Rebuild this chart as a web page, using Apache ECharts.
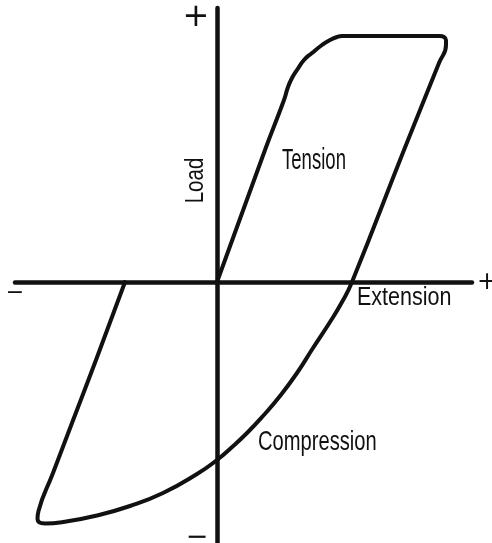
<!DOCTYPE html>
<html>
<head>
<meta charset="utf-8">
<script src="https://cdn.jsdelivr.net/npm/echarts@6/dist/echarts.min.js"></script>
<style>html,body{margin:0;padding:0;background:#fff;}#chart{width:492px;height:543px;}</style>
</head>
<body>
<div id="chart"></div>
<script>
// Hysteresis loop (arbitrary units, origin at axes crossing)
const loopExtension = [0, 4.8, 6.7, 7.1, 7.5, 8.0, 8.7, 9.5, 10.5, 11.3, 12.0, 12.5, 22.3, 22.7, 22.9, 22.9, 22.2, 18.7, 13.5, 12.5, 11.3, 9.6, 8.0, 6.3, 4.6, 3.0, 1.4, 0, -2.0, -5.4, -8.7, -12.0, -15.4, -17.2, -17.95, -17.85, -16.4, -14.5, -12.1, -9.2];
const loopLoad      = [0, 13.2, 18.2, 19.5, 20.4, 21.2, 22.2, 22.9, 23.7, 24.2, 24.5, 24.6, 24.6, 24.5, 24.2, 23.7, 21.9, 13.2, 0, -2.0, -4.0, -6.6, -9.1, -11.4, -13.4, -15.1, -16.6, -17.8, -19.2, -21.1, -22.4, -23.35, -24.0, -24.15, -23.7, -22.9, -19.1, -14.1, -7.8, 0];
const axisTitles = { x: 'Extension', y: 'Load' };
const branchNames = ['Tension', 'Compression'];
const signs = { pos: '+', neg: '\u2212' };

const loopData = loopExtension.map((x, i) => [x, loopLoad[i]]);

const chart = echarts.init(document.getElementById('chart'), null, { renderer: 'canvas' });
const txt = '"Liberation Sans", Arial, sans-serif';
const sym = '"DejaVu Sans", sans-serif';
const axisLine = { show: true, onZero: true, lineStyle: { color: '#111', width: 4.5, cap: 'round' } };

chart.setOption({
  backgroundColor: '#fff',
  animation: false,
  grid: { left: 15, right: 20, top: 8, bottom: 0 },
  xAxis: {
    type: 'value', min: -20.2, max: 25.5,
    axisLine: axisLine, axisTick: { show: false }, axisLabel: { show: false }, splitLine: { show: false }
  },
  yAxis: {
    type: 'value', min: -26.1, max: 27.4,
    axisLine: axisLine, axisTick: { show: false }, axisLabel: { show: false }, splitLine: { show: false }
  },
  series: [{
    type: 'line',
    data: loopData,
    smooth: 0.5,
    showSymbol: false,
    lineStyle: { color: '#111', width: 4, cap: 'round', join: 'round' }
  }],
  graphic: [
    { type: 'text', x: 282, y: 161, scaleX: 0.64, style: { text: branchNames[0], fontFamily: txt, fontSize: 29, fill: '#111', align: 'left', verticalAlign: 'middle' } },
    { type: 'text', x: 357, y: 298, scaleX: 0.86, style: { text: axisTitles.x, fontFamily: txt, fontSize: 25, fill: '#111', align: 'left', verticalAlign: 'middle' } },
    { type: 'text', x: 258, y: 442, scaleX: 0.72, style: { text: branchNames[1], fontFamily: txt, fontSize: 28, fill: '#111', align: 'left', verticalAlign: 'middle' } },
    { type: 'text', x: 196, y: 180.5, rotation: Math.PI / 2, scaleX: 0.82, style: { text: axisTitles.y, fontFamily: txt, fontSize: 25, fill: '#111', align: 'center', verticalAlign: 'middle' } },
    { type: 'text', x: 196, y: 18, style: { text: signs.pos, fontFamily: sym, fontSize: 32, fill: '#111', align: 'center', verticalAlign: 'middle' } },
    { type: 'text', x: 487, y: 283, style: { text: signs.pos, fontFamily: sym, fontSize: 24, fill: '#111', align: 'center', verticalAlign: 'middle' } },
    { type: 'text', x: 15, y: 293, style: { text: signs.neg, fontFamily: sym, fontSize: 22, fill: '#111', align: 'center', verticalAlign: 'middle' } },
    { type: 'text', x: 197, y: 538, style: { text: signs.neg, fontFamily: sym, fontSize: 27, fill: '#111', align: 'center', verticalAlign: 'middle' } }
  ]
});
</script>
</body>
</html>
